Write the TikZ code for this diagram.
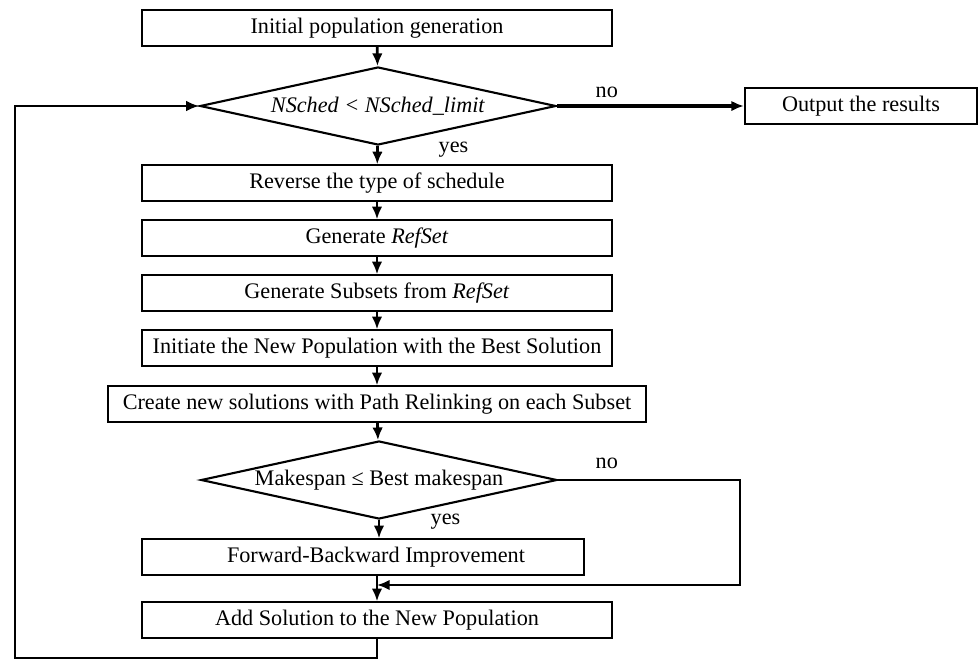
\documentclass[tikz,border=0pt]{standalone}
\usepackage{fontspec}
\setmainfont{Liberation Serif}
\usepackage{tikz}
\usetikzlibrary{shapes.geometric, arrows.meta, positioning, calc}

\begin{document}
\begin{tikzpicture}[
    x=0.025cm, y=-0.025cm,
    every node/.style={font=\fontsize{15.8}{18}\selectfont},
    stepbox/.style={draw=black, rectangle, line width=1.5pt,
                minimum width=11.75cm, minimum height=0.88cm, inner sep=0pt, align=center},
    decision/.style={draw=black, diamond, line width=1.5pt, aspect=4.56,
                minimum width=8.9cm, minimum height=1.95cm, inner sep=0pt, align=center},
    tag/.style={inner sep=1pt, anchor=west},
    arrow/.style={-{Latex[length=9pt,width=7.5pt]}, line width=2pt, draw=black},
    loopline/.style={-{Latex[length=9pt,width=7.5pt]}, line width=1.3pt, draw=black}
]
\useasboundingbox (0,0) rectangle (978,659);

%% ---- MAIN COLUMN (x=377) ----
\node [stepbox]  (init)     at (377, 28)  {Initial population generation};
\node [decision] (check)    at (378,106)  {\textit{NSched < NSched\_limit}};
\node [stepbox]  (reverse)  at (377,183)  {Reverse the type of schedule};
\node [stepbox]  (refset)   at (377,238)  {Generate \textit{RefSet}};
\node [stepbox]  (subsets)  at (377,293)  {Generate Subsets from \textit{RefSet}};
\node [stepbox]  (initiate) at (377,348)  {Initiate the New Population with the Best Solution};
\node [stepbox, minimum width=13.43cm] (relink) at (377,404) {Create new solutions with Path Relinking on each Subset};
\node [decision] (compare)  at (379,480)  {Makespan ≤ Best makespan};
\node [stepbox, minimum width=11.05cm] (improve) at (363,557) {\hspace*{0.65cm}Forward-Backward Improvement};
\node [stepbox]  (addsol)   at (377,620)  {Add Solution to the New Population};

%% ---- OUTPUT (right of first decision) ----
\node [stepbox, minimum width=5.8cm] (output) at (861,106) {Output the results};

%% ---- LABELS ----
\node [tag] (nocheck)    at (594, 92) {no};
\node [tag] (yescheck)   at (437,150) {yes};
\node [tag] (nocompare)  at (594,463) {no};
\node [tag] (yescompare) at (429,522) {yes};

%% ---- MAIN COLUMN ARROWS ----
\draw [arrow] (init)     -- (check);
\draw [arrow] (check)    -- (reverse);
\draw [arrow] (reverse)  -- (refset);
\draw [arrow] (refset)   -- (subsets);
\draw [arrow] (subsets)  -- (initiate);
\draw [arrow] (initiate) -- (relink);
\draw [arrow] (relink)   -- (compare);
\draw [arrow] (compare.south) -- (compare.south |- improve.north);

%% ---- EXIT ----
\draw [arrow, line width=2.4pt] (check.east) -- (output.west);

%% ---- MERGE of the two branches ----
\coordinate (merge) at (377,585);
\draw [arrow] (merge |- improve.south) -- (addsol.north);
\draw [loopline, line width=1.6pt] (compare.east) -- ++(182,0) |- (merge);

%% ---- BACK LOOP (left margin) ----
\coordinate (loopcorner) at (15,106);
\draw [loopline] (addsol.south) -- ++(0,19) -| (loopcorner) -- (check.west);

\end{tikzpicture}
\end{document}
